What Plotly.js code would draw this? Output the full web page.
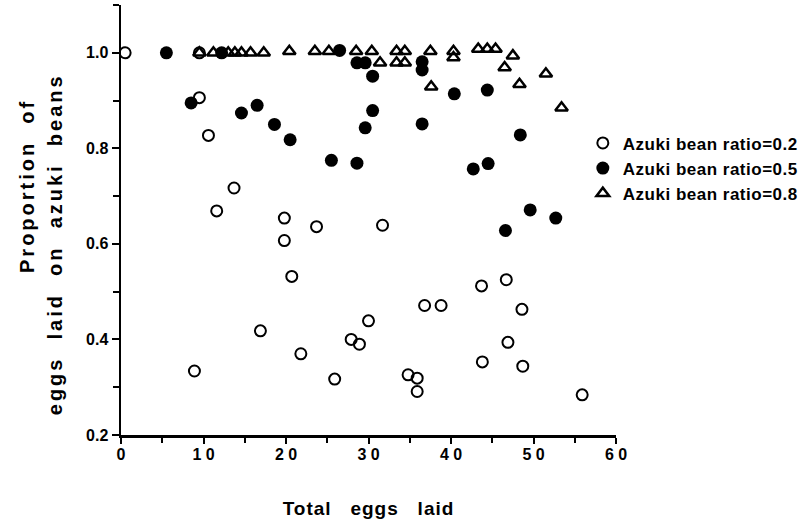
<!DOCTYPE html>
<html>
<head>
<meta charset="utf-8">
<script src="https://cdn.plot.ly/plotly-3.0.1.min.js"></script>
<style>
  html, body { margin: 0; padding: 0; background: #fff; }
  #chart { width: 800px; height: 531px; }
  .xtitle { letter-spacing: 1px; }
  .annotation-text { letter-spacing: 3px; }
  .legendtext { letter-spacing: 0.5px; }
</style>
</head>
<body>
<div id="chart"></div>
<script>
// Azuki bean ratio = 0.2 (open circles)
const x02 = [0.5, 9.5, 9.5, 10.6, 13.7, 11.6, 19.8, 23.7, 19.8, 20.7, 31.7, 8.9, 16.9, 21.8, 25.9, 27.9, 28.9, 30.0, 36.8, 38.8, 43.7, 46.7, 48.6, 46.9, 43.8, 48.7, 34.8, 35.9, 35.9, 55.9];
const y02 = [1.0, 1.0, 0.906, 0.827, 0.717, 0.669, 0.654, 0.636, 0.607, 0.532, 0.639, 0.334, 0.418, 0.370, 0.317, 0.400, 0.390, 0.439, 0.471, 0.471, 0.512, 0.525, 0.463, 0.394, 0.353, 0.344, 0.326, 0.319, 0.291, 0.284];

// Azuki bean ratio = 0.5 (filled circles)
const x05 = [5.5, 12.2, 26.5, 28.6, 29.6, 36.5, 36.5, 30.5, 40.4, 44.4, 8.5, 14.6, 16.5, 18.6, 20.5, 30.5, 29.6, 36.5, 25.5, 28.6, 42.7, 44.5, 48.4, 49.6, 52.7, 46.6];
const y05 = [1.0, 1.0, 1.005, 0.979, 0.979, 0.981, 0.964, 0.951, 0.914, 0.922, 0.895, 0.874, 0.890, 0.850, 0.818, 0.879, 0.843, 0.851, 0.775, 0.769, 0.757, 0.768, 0.828, 0.671, 0.654, 0.628];

// Azuki bean ratio = 0.8 (open triangles)
const x08 = [9.5, 11.2, 13.0, 13.8, 14.6, 15.7, 17.3, 20.4, 23.5, 25.2, 28.5, 30.4, 33.4, 34.4, 37.5, 40.3, 43.3, 44.4, 45.4, 31.4, 33.4, 34.4, 40.3, 37.6, 47.5, 46.5, 51.5, 48.3, 53.4];
const y08 = [1.0, 1.0, 1.0, 1.0, 1.0, 1.0, 1.0, 1.003, 1.003, 1.003, 1.003, 1.003, 1.003, 1.003, 1.003, 1.003, 1.008, 1.008, 1.008, 0.979, 0.979, 0.979, 0.990, 0.929, 0.994, 0.969, 0.956, 0.934, 0.885];

const seriesNames = ["Azuki bean ratio=0.2", "Azuki bean ratio=0.5", "Azuki bean ratio=0.8"];
const xTickVals = [0, 10, 20, 30, 40, 50, 60];
const xTickText = ["0", "1 0", "2 0", "3 0", "4 0", "5 0", "6 0"];
const yTickVals = [0.2, 0.4, 0.6, 0.8, 1.0];
const yTickText = ["0.2", "0.4", "0.6", "0.8", "1.0"];
const xTitle = "Total\u00a0\u00a0\u00a0eggs\u00a0\u00a0\u00a0laid";
const yTitleLines = ["Proportion\u00a0\u00a0of", "eggs\u00a0\u00a0laid\u00a0\u00a0on\u00a0\u00a0azuki\u00a0\u00a0beans"];

const FONT = "Liberation Sans, Arial, Helvetica, sans-serif";

const traces = [
  {
    x: x02, y: y02, name: seriesNames[0], type: "scatter", mode: "markers",
    marker: { symbol: "circle-open", size: 11, color: "#000", line: { width: 2, color: "#000" } }
  },
  {
    x: x05, y: y05, name: seriesNames[1], type: "scatter", mode: "markers",
    marker: { symbol: "circle", size: 13, color: "#000", line: { width: 0 } }
  },
  {
    x: x08, y: y08, name: seriesNames[2], type: "scatter", mode: "markers",
    marker: { symbol: "triangle-up-open", size: 11, color: "#000", line: { width: 2.5, color: "#000" } }
  }
];

const titleFont = { family: FONT, size: 20, color: "#000", weight: "bold" };

const layout = {
  width: 800, height: 531,
  margin: { l: 121, r: 184, t: 5, b: 96, pad: 0, autoexpand: false },
  paper_bgcolor: "#fff", plot_bgcolor: "#fff",
  font: { family: FONT, color: "#000", size: 16, weight: "bold" },
  showlegend: true,
  legend: {
    x: 0.933, xanchor: "left", y: 0.72, yanchor: "top",
    font: { family: FONT, size: 17, color: "#000", weight: "bold" },
    bgcolor: "rgba(0,0,0,0)", borderwidth: 0, tracegroupgap: 0
  },
  xaxis: {
    range: [0, 60],
    showgrid: false, zeroline: false,
    showline: true, linecolor: "#000", linewidth: 2.5,
    ticks: "outside", ticklen: 6, tickwidth: 2, tickcolor: "#000",
    tickvals: xTickVals, ticktext: xTickText,
    ticklabelstandoff: -3,
    tickfont: { family: FONT, size: 16, color: "#000", weight: "bold" },
    minor: { dtick: 5, ticks: "outside", ticklen: 5, tickwidth: 2, tickcolor: "#000", showgrid: false },
    title: {
      text: xTitle,
      font: { family: FONT, size: 19, color: "#000", weight: "bold" },
      standoff: 40
    }
  },
  yaxis: {
    range: [0.2, 1.1],
    showgrid: false, zeroline: false,
    showline: true, linecolor: "#000", linewidth: 2.5,
    ticks: "outside", ticklen: 7, tickwidth: 2, tickcolor: "#000",
    tickvals: yTickVals, ticktext: yTickText,
    tickfont: { family: FONT, size: 16, color: "#000", weight: "bold" },
    minor: { dtick: 0.1, tick0: 0.2, ticks: "outside", ticklen: 6, tickwidth: 2, tickcolor: "#000", showgrid: false }
  },
  annotations: [
    {
      text: yTitleLines[0], xref: "paper", yref: "paper",
      x: -0.19, y: 0.579, xanchor: "center", yanchor: "middle",
      textangle: -90, showarrow: false, font: titleFont
    },
    {
      text: yTitleLines[1], xref: "paper", yref: "paper",
      x: -0.133, y: 0.444, xanchor: "center", yanchor: "middle",
      textangle: -90, showarrow: false, font: titleFont
    }
  ]
};

Plotly.newPlot("chart", traces, layout, { displayModeBar: false, staticPlot: true });
</script>
</body>
</html>
